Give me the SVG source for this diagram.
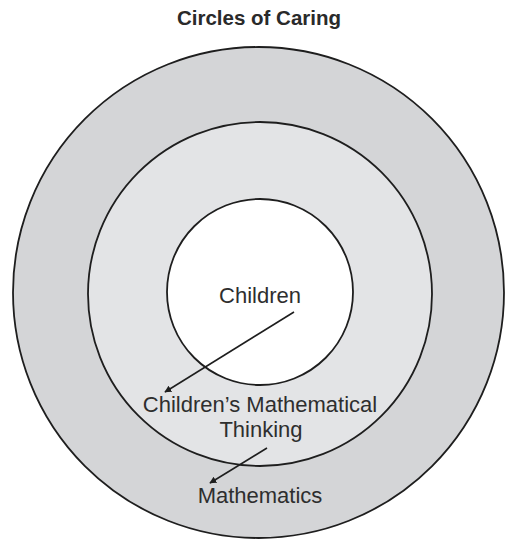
<svg xmlns="http://www.w3.org/2000/svg" width="505" height="540" viewBox="0 0 505 540">
<style>
.ring{stroke:#1e1e1e;stroke-width:1.8}
.lbl{font-family:"Liberation Sans",Arial,sans-serif;font-size:22px;fill:#2e2e2e;text-anchor:middle}
.title{font-family:"Liberation Sans",Arial,sans-serif;font-size:20.5px;font-weight:bold;fill:#2a2a2a;text-anchor:middle}
.conn{stroke:#1e1e1e;stroke-width:1.6;fill:none;marker-end:url(#ah)}
</style>
<defs>
<marker id="ah" viewBox="0 0 10 10" refX="9" refY="5" markerWidth="7" markerHeight="7" markerUnits="userSpaceOnUse" orient="auto">
<path d="M0,0 L10,5 L0,10 z" fill="#1e1e1e"/>
</marker>
</defs>
<rect width="505" height="540" fill="#ffffff"/>
<text class="title" x="259" y="25">Circles of Caring</text>
<g id="mathematics">
<circle class="ring" cx="258.5" cy="292.5" r="245.5" fill="#d4d5d7"/>
<text class="lbl" x="260" y="503">Mathematics</text>
</g>
<g id="thinking">
<circle class="ring" cx="260" cy="294" r="172" fill="#e3e4e6"/>
</g>
<g id="children">
<circle class="ring" cx="260" cy="292" r="93" fill="#ffffff"/>
<text class="lbl" x="260" y="303">Children</text>
</g>
<g id="thinking-label">
<text class="lbl" x="260" y="412">Children’s Mathematical</text>
<text class="lbl" x="261" y="437">Thinking</text>
</g>
<g id="connectors">
<line class="conn" x1="294" y1="312" x2="165" y2="392"/>
<line class="conn" x1="267" y1="448" x2="210" y2="483"/>
</g>
</svg>
